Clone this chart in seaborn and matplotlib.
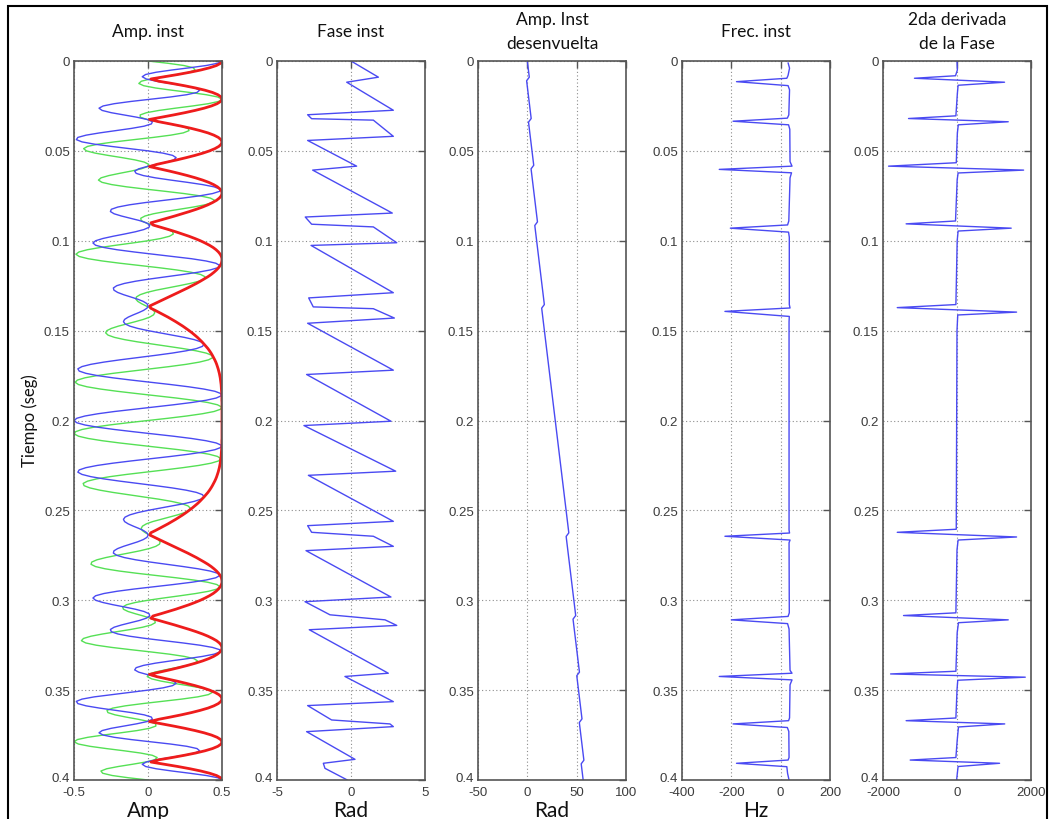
import numpy as np
import matplotlib
matplotlib.use("Agg")
import matplotlib.pyplot as plt
import matplotlib.transforms as mtransforms
import seaborn as sns
from matplotlib.patches import Rectangle

# ---------------------------------------------------------------- data
# time samples of the trace (s)
tiempo = np.arange(321) * 0.00125

# real trace (blue)
traza_real = [
    0.500, 0.472, 0.394, 0.283, 0.162, 0.055, -0.016, -0.039, -0.012, 0.057,
    0.150, 0.245, 0.317, 0.349, 0.331, 0.262, 0.153, 0.020, -0.115, -0.228,
    -0.303, -0.331, -0.310, -0.249, -0.165, -0.077, -0.007, 0.030, 0.023, -0.026,
    -0.112, -0.219, -0.327, -0.418, -0.474, -0.484, -0.446, -0.363, -0.250, -0.123,
    0.000, 0.101, 0.166, 0.190, 0.174, 0.126, 0.060, -0.009, -0.063, -0.090,
    -0.080, -0.031, 0.050, 0.154, 0.266, 0.368, 0.446, 0.487, 0.484, 0.436,
    0.350, 0.236, 0.108, -0.017, -0.125, -0.204, -0.248, -0.254, -0.229, -0.179,
    -0.118, -0.058, -0.012, 0.012, 0.007, -0.027, -0.085, -0.158, -0.236, -0.305,
    -0.354, -0.372, -0.354, -0.298, -0.209, -0.093, 0.038, 0.172, 0.294, 0.392,
    0.458, 0.485, 0.471, 0.420, 0.339, 0.237, 0.125, 0.015, -0.083, -0.160,
    -0.211, -0.234, -0.230, -0.205, -0.165, -0.117, -0.070, -0.032, -0.007, 0.001,
    -0.007, -0.030, -0.063, -0.100, -0.134, -0.158, -0.166, -0.155, -0.123, -0.070,
    0.000, 0.081, 0.165, 0.245, 0.312, 0.358, 0.378, 0.368, 0.327, 0.257,
    0.163, 0.051, -0.069, -0.189, -0.297, -0.386, -0.446, -0.474, -0.465, -0.420,
    -0.343, -0.238, -0.114, 0.019, 0.153, 0.275, 0.377, 0.452, 0.492, 0.495,
    0.461, 0.392, 0.294, 0.173, 0.039, -0.098, -0.227, -0.339, -0.426, -0.481,
    -0.500,
    -0.481, -0.426, -0.339, -0.227, -0.098, 0.039, 0.173, 0.294, 0.392,
    0.461, 0.495, 0.492, 0.452, 0.377, 0.275, 0.153, 0.019, -0.114, -0.238,
    -0.343, -0.420, -0.465, -0.474, -0.446, -0.386, -0.297, -0.189, -0.069, 0.051,
    0.163, 0.257, 0.327, 0.368, 0.378, 0.358, 0.312, 0.245, 0.165, 0.081,
    0.000, -0.070, -0.123, -0.155, -0.166, -0.158, -0.134, -0.100, -0.063, -0.030,
    -0.007, 0.001, -0.007, -0.032, -0.070, -0.117, -0.165, -0.205, -0.230, -0.234,
    -0.211, -0.160, -0.083, 0.015, 0.125, 0.237, 0.339, 0.420, 0.471, 0.485,
    0.458, 0.392, 0.294, 0.172, 0.038, -0.093, -0.209, -0.298, -0.354, -0.372,
    -0.354, -0.305, -0.236, -0.158, -0.085, -0.027, 0.007, 0.012, -0.012, -0.058,
    -0.118, -0.179, -0.229, -0.254, -0.248, -0.204, -0.125, -0.017, 0.108, 0.236,
    0.350, 0.436, 0.484, 0.487, 0.446, 0.368, 0.266, 0.154, 0.050, -0.031,
    -0.080, -0.090, -0.063, -0.009, 0.060, 0.126, 0.174, 0.190, 0.166, 0.101,
    0.000, -0.123, -0.250, -0.363, -0.446, -0.484, -0.474, -0.418, -0.327, -0.219,
    -0.112, -0.026, 0.023, 0.030, -0.007, -0.077, -0.165, -0.249, -0.310, -0.331,
    -0.303, -0.228, -0.115, 0.020, 0.153, 0.262, 0.331, 0.349, 0.317, 0.245,
    0.150, 0.057, -0.012, -0.039, -0.016, 0.055, 0.162, 0.283, 0.394, 0.472,
    0.500,
]

# quadrature trace (green)
traza_cuad = [
    0.000, 0.133, 0.242, 0.306, 0.318, 0.279, 0.201, 0.105, 0.016, -0.045,
    -0.062, -0.029, 0.050, 0.161, 0.283, 0.393, 0.470, 0.500, 0.477, 0.407,
    0.303, 0.185, 0.074, -0.010, -0.053, -0.052, -0.008, 0.064, 0.148, 0.223,
    0.271, 0.277, 0.238, 0.154, 0.037, -0.096, -0.227, -0.336, -0.408, -0.435,
    -0.416, -0.357, -0.271, -0.176, -0.089, -0.025, 0.005, -0.003, -0.046, -0.114,
    -0.192, -0.265, -0.317, -0.335, -0.311, -0.246, -0.145, -0.019, 0.116, 0.244,
    0.350, 0.421, 0.450, 0.436, 0.385, 0.306, 0.212, 0.117, 0.036, -0.021,
    -0.049, -0.046, -0.016, 0.032, 0.086, 0.135, 0.166, 0.171, 0.145, 0.086,
    0.000, -0.105, -0.217, -0.323, -0.410, -0.467, -0.487, -0.465, -0.404, -0.309,
    -0.190, -0.057, 0.075, 0.194, 0.290, 0.355, 0.385, 0.380, 0.345, 0.285,
    0.211, 0.131, 0.055, -0.008, -0.053, -0.078, -0.082, -0.069, -0.044, -0.013,
    0.017, 0.038, 0.046, 0.037, 0.011, -0.031, -0.085, -0.143, -0.200, -0.247,
    -0.278, -0.286, -0.270, -0.227, -0.159, -0.071, 0.030, 0.136, 0.238, 0.326,
    0.393, 0.432, 0.438, 0.409, 0.348, 0.258, 0.145, 0.019, -0.112, -0.235,
    -0.343, -0.426, -0.477, -0.492, -0.470, -0.412, -0.322, -0.208, -0.078, 0.059,
    0.191, 0.309, 0.404, 0.469, 0.498, 0.490, 0.446, 0.367, 0.261, 0.136,
    0.000,
    -0.136, -0.261, -0.367, -0.446, -0.490, -0.498, -0.469, -0.404, -0.309,
    -0.191, -0.059, 0.078, 0.208, 0.322, 0.412, 0.470, 0.492, 0.477, 0.426,
    0.343, 0.235, 0.112, -0.019, -0.145, -0.258, -0.348, -0.409, -0.438, -0.432,
    -0.393, -0.326, -0.238, -0.136, -0.030, 0.071, 0.159, 0.227, 0.270, 0.286,
    0.278, 0.247, 0.200, 0.143, 0.085, 0.031, -0.011, -0.037, -0.046, -0.038,
    -0.017, 0.013, 0.044, 0.069, 0.082, 0.078, 0.053, 0.008, -0.055, -0.131,
    -0.211, -0.285, -0.345, -0.380, -0.385, -0.355, -0.290, -0.194, -0.075, 0.057,
    0.190, 0.309, 0.404, 0.465, 0.487, 0.467, 0.410, 0.323, 0.217, 0.105,
    0.000, -0.086, -0.145, -0.171, -0.166, -0.135, -0.086, -0.032, 0.016, 0.046,
    0.049, 0.021, -0.036, -0.117, -0.212, -0.306, -0.385, -0.436, -0.450, -0.421,
    -0.350, -0.244, -0.116, 0.019, 0.145, 0.246, 0.311, 0.335, 0.317, 0.265,
    0.192, 0.114, 0.046, 0.003, -0.005, 0.025, 0.089, 0.176, 0.271, 0.357,
    0.416, 0.435, 0.408, 0.336, 0.227, 0.096, -0.037, -0.154, -0.238, -0.277,
    -0.271, -0.223, -0.148, -0.064, 0.008, 0.052, 0.053, 0.010, -0.074, -0.185,
    -0.303, -0.407, -0.477, -0.500, -0.470, -0.393, -0.283, -0.161, -0.050, 0.029,
    0.062, 0.045, -0.016, -0.105, -0.201, -0.279, -0.318, -0.306, -0.242, -0.133,
    0.000,
]

# instantaneous amplitude (red envelope)
amp_inst = [
    0.500, 0.491, 0.463, 0.417, 0.357, 0.284, 0.202, 0.112, 0.020, 0.073,
    0.163, 0.246, 0.321, 0.385, 0.436, 0.472, 0.494, 0.500, 0.491, 0.467,
    0.429, 0.379, 0.318, 0.249, 0.173, 0.093, 0.011, 0.071, 0.150, 0.225,
    0.293, 0.353, 0.405, 0.445, 0.475, 0.493, 0.500, 0.495, 0.479, 0.452,
    0.416, 0.371, 0.318, 0.259, 0.196, 0.129, 0.060, 0.010, 0.078, 0.145,
    0.208, 0.267, 0.321, 0.369, 0.410, 0.443, 0.469, 0.487, 0.498, 0.500,
    0.495, 0.482, 0.463, 0.436, 0.405, 0.368, 0.326, 0.280, 0.231, 0.180,
    0.128, 0.074, 0.020, 0.034, 0.087, 0.138, 0.187, 0.233, 0.277, 0.317,
    0.354, 0.386, 0.415, 0.440, 0.460, 0.476, 0.488, 0.496, 0.500, 0.499,
    0.496, 0.488, 0.477, 0.463, 0.446, 0.427, 0.405, 0.380, 0.354, 0.327,
    0.298, 0.268, 0.237, 0.205, 0.173, 0.141, 0.108, 0.076, 0.044, 0.013,
    0.018, 0.049, 0.078, 0.107, 0.135, 0.161, 0.187, 0.211, 0.235, 0.257,
    0.278, 0.298, 0.316, 0.334, 0.350, 0.365, 0.379, 0.392, 0.405, 0.416,
    0.426, 0.435, 0.443, 0.451, 0.458, 0.464, 0.469, 0.474, 0.478, 0.482,
    0.485, 0.488, 0.490, 0.492, 0.494, 0.495, 0.496, 0.497, 0.498, 0.499,
    0.499, 0.499, 0.500, 0.500, 0.500, 0.500, 0.500, 0.500, 0.500, 0.500,
    0.500,
    0.500, 0.500, 0.500, 0.500, 0.500, 0.500, 0.500, 0.500, 0.499,
    0.499, 0.499, 0.498, 0.497, 0.496, 0.495, 0.494, 0.492, 0.490, 0.488,
    0.485, 0.482, 0.478, 0.474, 0.469, 0.464, 0.458, 0.451, 0.443, 0.435,
    0.426, 0.416, 0.405, 0.392, 0.379, 0.365, 0.350, 0.334, 0.316, 0.298,
    0.278, 0.257, 0.235, 0.211, 0.187, 0.161, 0.135, 0.107, 0.078, 0.049,
    0.018, 0.013, 0.044, 0.076, 0.108, 0.141, 0.173, 0.205, 0.237, 0.268,
    0.298, 0.327, 0.354, 0.380, 0.405, 0.427, 0.446, 0.463, 0.477, 0.488,
    0.496, 0.499, 0.500, 0.496, 0.488, 0.476, 0.460, 0.440, 0.415, 0.386,
    0.354, 0.317, 0.277, 0.233, 0.187, 0.138, 0.087, 0.034, 0.020, 0.074,
    0.128, 0.180, 0.231, 0.280, 0.326, 0.368, 0.405, 0.436, 0.463, 0.482,
    0.495, 0.500, 0.498, 0.487, 0.469, 0.443, 0.410, 0.369, 0.321, 0.267,
    0.208, 0.145, 0.078, 0.010, 0.060, 0.129, 0.196, 0.259, 0.318, 0.371,
    0.416, 0.452, 0.479, 0.495, 0.500, 0.493, 0.475, 0.445, 0.405, 0.353,
    0.293, 0.225, 0.150, 0.071, 0.011, 0.093, 0.173, 0.249, 0.318, 0.379,
    0.429, 0.467, 0.491, 0.500, 0.494, 0.472, 0.436, 0.385, 0.321, 0.246,
    0.163, 0.073, 0.020, 0.112, 0.202, 0.284, 0.357, 0.417, 0.463, 0.491,
    0.500,
]

# wrapped instantaneous phase (rad)
fase_t = [0.0, 0.0090, 0.0118, 0.0274, 0.0299, 0.0321, 0.0329, 0.0419, 0.0442,
          0.0585, 0.0607, 0.0846, 0.0868, 0.0908, 0.0923, 0.1011, 0.1026, 0.1289,
          0.1318, 0.1368, 0.1378, 0.1430, 0.1459, 0.1720, 0.1744, 0.2004, 0.2028,
          0.2282, 0.2305, 0.2561, 0.2585, 0.2622, 0.2644, 0.2700, 0.2724, 0.2982,
          0.3008, 0.3081, 0.3109, 0.3140, 0.3164, 0.3406, 0.3424, 0.3564, 0.3586,
          0.3666, 0.3688, 0.3703, 0.3731, 0.3885, 0.3907, 0.3935, 0.4000]
fase_v = [0.0, 1.85, -0.29, 2.86, -2.93, -2.66, 1.51, 2.86, -2.93,
          0.38, -2.59, 2.79, -3.09, -2.66, 1.51, 3.09, -2.70, 2.86,
          -2.86, -2.55, 1.51, 2.93, -2.93, 2.86, -3.00, 2.70, -3.18,
          3.02, -2.88, 2.86, -2.93, -2.66, 1.51, 2.86, -3.04, 2.70,
          -3.11, -1.42, 2.30, 3.09, -2.82, 2.52, -0.41, 2.86, -2.93,
          -1.31, 2.63, 2.86, -3.00, 0.27, -1.87, -1.76, -0.25]

# unwrapped phase (rad)
desenv_t = [0.0, 0.009, 0.011, 0.032, 0.034, 0.058, 0.060, 0.0895, 0.0915,
            0.1355, 0.1375, 0.2625, 0.2645, 0.3085, 0.3105, 0.340, 0.342,
            0.366, 0.368, 0.389, 0.391, 0.400]
desenv_v = [0.0, 1.98, -0.72, 3.90, 1.20, 6.48, 3.78, 10.27, 7.56,
            17.24, 14.54, 42.04, 39.34, 49.02, 46.32, 52.81, 50.11,
            55.39, 52.69, 57.31, 54.60, 56.58]

# instantaneous frequency (Hz)
frec_t = [0.001, 0.004, 0.0080, 0.0096, 0.0115, 0.0137, 0.016,
          0.030, 0.0318, 0.0335, 0.0355, 0.038,
          0.056, 0.0585, 0.0603, 0.0622, 0.065,
          0.089, 0.0912, 0.0930, 0.0952, 0.098,
          0.1355, 0.1374, 0.1393, 0.1421, 0.145,
          0.2610, 0.2626, 0.2644, 0.2665, 0.268,
          0.3070, 0.3090, 0.3109, 0.3130, 0.316,
          0.339, 0.3406, 0.3424, 0.3443, 0.347,
          0.3655, 0.3670, 0.3688, 0.3708, 0.373,
          0.3875, 0.3889, 0.3907, 0.3926, 0.3963, 0.400]
frec_v = [30, 36, 30, 25, -179, 30, 36,
          33, 27, -193, 32, 37,
          38, 46, -249, 44, 38,
          33, 28, -204, 32, 35,
          35, 38, -226, 35, 34,
          34, 36, -226, 38, 34,
          35, 30, -200, 28, 34,
          38, 46, -249, 46, 38,
          36, 32, -193, 27, 33,
          34, 30, -179, 25, 28, 34]

# second derivative of the phase
deriv2_t = [0.000, 0.005, 0.0082, 0.0096, 0.0118, 0.0135, 0.018,
            0.0305, 0.0320, 0.0338, 0.0355, 0.040,
            0.0566, 0.0585, 0.0607, 0.0623, 0.066,
            0.0890, 0.0906, 0.0930, 0.0946, 0.100,
            0.1355, 0.1372, 0.1397, 0.1413, 0.150,
            0.2605, 0.2622, 0.2648, 0.2665, 0.272,
            0.3070, 0.3085, 0.3109, 0.3125, 0.318,
            0.3395, 0.3410, 0.3428, 0.3445, 0.350,
            0.3655, 0.3670, 0.3688, 0.3705, 0.378,
            0.3875, 0.3889, 0.3907, 0.3925, 0.396, 0.400]
deriv2_v = [0, 10, -40, -1150, 1285, 30, 10,
            -30, -1310, 1385, 35, 10,
            -20, -1850, 1800, 30, 5,
            -40, -1375, 1465, 30, 5,
            -30, -1615, 1610, 20, 0,
            -20, -1615, 1610, 30, 0,
            -30, -1445, 1385, 40, 5,
            -30, -1795, 1845, 20, 0,
            -30, -1375, 1290, 40, 5,
            -30, -1265, 1150, 30, 10, -10]

titulos = ["Amp. inst", "Fase inst", "Amp. Inst\ndesenvuelta", "Frec. inst",
           "2da derivada\nde la Fase"]
etiquetas_x = ["Amp", "Rad", "Rad", "Hz", ""]
limites_x = [(-0.5, 0.5), (-5, 5), (-50, 100), (-400, 200), (-2000, 2000)]
ticks_x = [[-0.5, 0, 0.5], [-5, 0, 5], [-50, 0, 50, 100],
           [-400, -200, 0, 200], [-2000, 0, 2000]]
ticks_x_txt = [["-0.5", "0", "0.5"], ["-5", "0", "5"], ["-50", "0", "50", "100"],
               ["-400", "-200", "0", "200"], ["-2000", "0", "2000"]]
ticks_y = [0, 0.05, 0.1, 0.15, 0.2, 0.25, 0.3, 0.35, 0.4]
ticks_y_txt = ["0", "0.05", "0.1", "0.15", "0.2", "0.25", "0.3", "0.35", "0.4"]

# ---------------------------------------------------------------- style
sns.set_style("white")
plt.rcParams["font.family"] = ["Liberation Sans", "DejaVu Sans"]
plt.rcParams["axes.unicode_minus"] = False

AZUL = "#4a4af2"
VERDE = "#55e055"
ROJO = "#ee1c1c"
EJE = "#555555"
TXT = ["Lato", "DejaVu Sans"]

W, H = 1052, 820
fig = plt.figure(figsize=(W / 100, H / 100), dpi=100)

lefts_px = [74, 277, 478, 682, 883]
ax_w_px = 148
top_px, bot_px = 62, 781

axes = [fig.add_axes([lp / W, 1 - bot_px / H, ax_w_px / W, (bot_px - top_px) / H])
        for lp in lefts_px]

kw = dict(orient="y", sort=False, estimator=None)

# panel 1: real trace, quadrature and envelope
sns.lineplot(x=traza_cuad, y=tiempo, color=VERDE, linewidth=1.0, ax=axes[0], **kw)
sns.lineplot(x=traza_real, y=tiempo, color=AZUL, linewidth=1.0, ax=axes[0], **kw)
sns.lineplot(x=amp_inst, y=tiempo, color=ROJO, linewidth=2.0, ax=axes[0], **kw)
# panels 2-5
sns.lineplot(x=fase_v, y=fase_t, color=AZUL, linewidth=1.0, ax=axes[1], **kw)
sns.lineplot(x=desenv_v, y=desenv_t, color=AZUL, linewidth=1.0, ax=axes[2], **kw)
sns.lineplot(x=frec_v, y=frec_t, color=AZUL, linewidth=1.0, ax=axes[3], **kw)
sns.lineplot(x=deriv2_v, y=deriv2_t, color=AZUL, linewidth=1.0, ax=axes[4], **kw)

# lift the bottom time label a little so it clears the x tick labels
lift = mtransforms.ScaledTranslation(0, 2.5 / 72, fig.dpi_scale_trans)

for i, ax in enumerate(axes):
    ax.set_xlim(*limites_x[i])
    ax.set_ylim(0.4, 0)
    ax.set_xticks(ticks_x[i])
    ax.set_xticklabels(ticks_x_txt[i])
    ax.set_yticks(ticks_y)
    ax.set_yticklabels(ticks_y_txt)
    ax.set_xlabel("")
    ax.set_ylabel("")
    ax.grid(True, linestyle=(0, (1, 2.2)), color="#8c8c8c", linewidth=0.8)
    ax.tick_params(direction="in", length=5, width=1.0, top=True, right=True,
                   color=EJE, labelcolor="#3c3c3c", labelsize=9.5, pad=3)
    ax.tick_params(axis="x", pad=4)
    last = ax.get_yticklabels()[-1]
    last.set_transform(last.get_transform() + lift)
    for s in ax.spines.values():
        s.set_color(EJE)
        s.set_linewidth(1.2)
    cx = (lefts_px[i] + ax_w_px / 2) / W
    fig.text(cx, 1 - 32 / H, titulos[i], ha="center", va="center",
             fontsize=12.5, family=TXT, color="#111111", linespacing=1.63)
    if etiquetas_x[i]:
        fig.text(cx, 1 - 817 / H, etiquetas_x[i], ha="center", va="baseline",
                 fontsize=15, family=TXT, color="#111111")

fig.text(30 / W, 1 - 421 / H, "Tiempo (seg)", rotation=90, ha="center", va="center",
         fontsize=12, family=TXT, color="#111111")

# outer frame
fig.add_artist(Rectangle((8 / W, -0.02), (1047 - 8) / W, 1 - 7 / H + 0.02,
                         transform=fig.transFigure, fill=False,
                         edgecolor="black", linewidth=1.5))

fig.savefig("out.png", dpi=100)
